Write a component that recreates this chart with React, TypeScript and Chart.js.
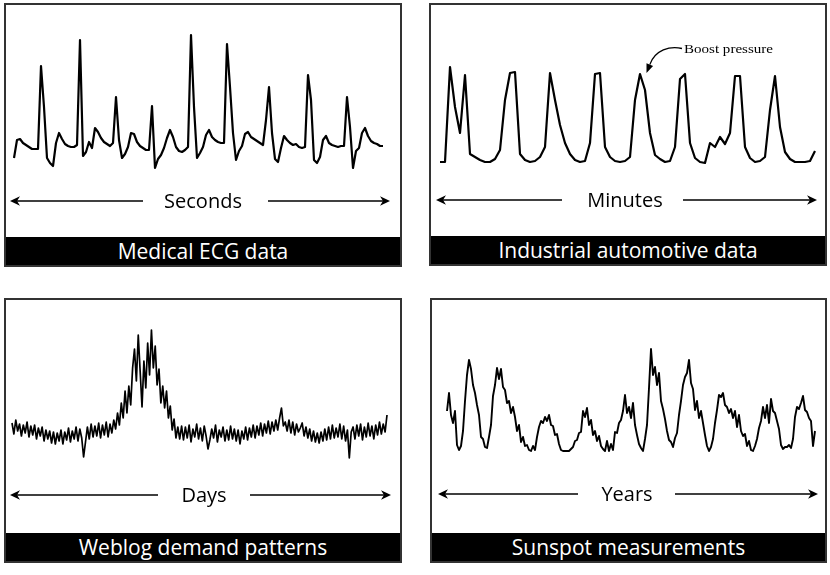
import React, { useEffect, useRef } from "react";
import { Chart, registerables } from "chart.js";

Chart.register(...registerables);

// ---- Data (arbitrary units) ----
const ecgValues = [
  12, 30, 31, 27, 25, 23, 21, 21, 21, 104,
  63, 12, 7, 4, 27, 37, 31, 26, 24, 23,
  23, 25, 130, 14, 18, 28, 22, 42, 38, 32,
  28, 26, 24, 27, 73, 30, 12, 16, 23, 37,
  36, 28, 24, 22, 20, 20, 64, 2, 11, 15,
  22, 32, 40, 33, 23, 19, 18, 20, 23, 135,
  63, 12, 17, 23, 35, 40, 33, 30, 28, 27,
  27, 126, 83, 37, 10, 19, 24, 36, 38, 33,
  31, 29, 27, 25, 50, 83, 37, 11, 8, 22,
  34, 30, 27, 25, 26, 23, 22, 23, 95, 70,
  10, 7, 13, 30, 34, 27, 25, 24, 23, 24,
  24, 73, 43, 2, 19, 22, 37, 42, 34, 29,
  27, 26, 24, 24,
];

const boostValues = [
  3, 3, 98, 58, 32, 90, 11, 8, 5, 3,
  3, 6, 15, 65, 92, 93, 11, 5, 3, 4,
  8, 18, 92, 65, 40, 22, 11, 5, 3, 4,
  22, 91, 92, 18, 8, 4, 3, 4, 8, 65,
  91, 75, 32, 10, 6, 3, 4, 18, 86, 91,
  22, 7, 3, 2, 22, 18, 28, 21, 32, 89,
  89, 18, 7, 3, 4, 8, 55, 89, 38, 13,
  6, 3, 3, 3, 4, 14,
];

const weblogValues = [
  40, 29, 43, 32, 39, 27, 38, 30, 41, 26, 37, 28, 38, 24, 35, 27, 36, 22, 33, 24,
  32, 20, 31, 19, 30, 22, 33, 19, 31, 23, 35, 21, 32, 24, 36, 22, 34, 25, 6, 21,
  36, 24, 39, 26, 37, 27, 40, 25, 38, 28, 41, 26, 39, 30, 43,
  34, 50, 38, 60, 45, 72, 50, 77, 58, 95, 114, 82, 128, 92, 56, 102, 75, 120, 88, 133,
  95, 117, 78, 94, 60, 77, 55, 72, 45, 57, 33, 44, 25, 36, 24,
  37, 23, 36, 25, 38, 21, 34, 26, 39, 24, 35, 22, 37, 27, 14, 23, 34, 25, 38, 21,
  33, 26, 36, 22, 33, 23, 37, 24, 34,
  22, 33, 19, 32, 24, 36, 23, 35, 26, 38, 25, 37, 28, 40, 27, 39, 30, 42, 29, 41, 32, 43,
  33, 45, 55, 37, 41,
  32, 43, 30, 41, 28, 39, 31, 35, 40, 27, 36, 25, 34, 22, 32, 21, 30, 20, 31, 22,
  34, 23, 36, 24, 38, 25, 35, 26, 39, 24, 37, 22, 33, 5, 31, 36, 24, 38, 27, 39,
  23, 36, 26, 40, 27, 37, 24, 38, 28, 41, 29, 39, 31, 48,
];

const sunspotValues = [
  42, 60, 38, 30, 42, 8, 3, 7, 22, 52,
  78, 93, 84, 68, 60, 48, 38, 16, 14, 6,
  5, 16, 28, 57, 68, 85, 74, 84, 66, 63,
  50, 52, 40, 46, 36, 22, 28, 11, 16, 7,
  8, 3, 2, 7, 3, 16, 26, 32, 30, 36,
  32, 38, 28, 27, 18, 19, 9, 3, 2, 2,
  2, 2, 4, 6, 12, 13, 20, 21, 42, 36,
  45, 28, 33, 18, 22, 12, 17, 7, 4, 2,
  12, 2, 9, 3, 21, 20, 30, 33, 42, 58,
  40, 46, 35, 50, 28, 18, 9, 5, 2, 14,
  28, 65, 104, 78, 86, 68, 80, 52, 44, 34,
  22, 13, 11, 6, 15, 20, 38, 52, 68, 76,
  80, 93, 70, 64, 43, 52, 35, 42, 30, 18,
  7, 2, 6, 14, 30, 43, 58, 56, 60, 48,
  46, 40, 44, 35, 42, 26, 38, 22, 17, 19,
  7, 12, 3, 2, 7, 14, 25, 32, 46, 35,
  48, 30, 54, 42, 40, 32, 24, 8, 4, 6,
  6, 8, 5, 14, 36, 46, 44, 50, 57, 43,
  41, 35, 32, 7, 22,
];

const captions = [
  "Medical ECG data",
  "Industrial automotive data",
  "Weblog demand patterns",
  "Sunspot measurements",
];
const axisLabels = ["Seconds", "Minutes", "Days", "Years"];
const annotationText = "Boost pressure";

// ---- Layout (styles / positions) ----
type Plot = { l: number; r: number; base: number; vmax: number };
type Arrow = { y: number; lt: number; le: number; rs: number; rt: number; tx: number };
type Panel = {
  box: { l: number; t: number; w: number; h: number };
  plot: Plot;
  arrow: Arrow;
  values: number[];
  lineWidth: number;
  caption: string;
  label: string;
};

const panels: Panel[] = [
  {
    box: { l: 4, t: 3, w: 398, h: 264 },
    plot: { l: 14, r: 383, base: 170, vmax: 135 },
    arrow: { y: 201, lt: 10, le: 143, rs: 268, rt: 390, tx: 203 },
    values: ecgValues,
    lineWidth: 2.2,
    caption: captions[0],
    label: axisLabels[0],
  },
  {
    box: { l: 429, t: 3, w: 398, h: 263 },
    plot: { l: 440, r: 815, base: 165, vmax: 98 },
    arrow: { y: 200, lt: 436, le: 562, rs: 683, rt: 817, tx: 625 },
    values: boostValues,
    lineWidth: 2.2,
    caption: captions[1],
    label: axisLabels[1],
  },
  {
    box: { l: 4, t: 298, w: 398, h: 265 },
    plot: { l: 12, r: 387, base: 463, vmax: 133 },
    arrow: { y: 495, lt: 10, le: 158, rs: 250, rt: 391, tx: 204 },
    values: weblogValues,
    lineWidth: 1.7,
    caption: captions[2],
    label: axisLabels[2],
  },
  {
    box: { l: 430, t: 298, w: 397, h: 265 },
    plot: { l: 447, r: 815, base: 453, vmax: 104 },
    arrow: { y: 494, lt: 438, le: 578, rs: 675, rt: 818, tx: 627 },
    values: sunspotValues,
    lineWidth: 1.9,
    caption: captions[3],
    label: axisLabels[3],
  },
];

const PAD = 5;
const FONT = "'Open Sans', 'DejaVu Sans', sans-serif";

function LineCanvas({ values, plot, lineWidth }: { values: number[]; plot: Plot; lineWidth: number }) {
  const ref = useRef<HTMLCanvasElement | null>(null);
  const w = plot.r - plot.l + 2 * PAD;
  const h = plot.vmax + 2 * PAD;
  useEffect(() => {
    if (!ref.current) return;
    const chart = new Chart(ref.current, {
      type: "line",
      data: {
        labels: values.map((_, i) => i),
        datasets: [
          {
            data: values,
            borderColor: "#000000",
            borderWidth: lineWidth,
            pointRadius: 0,
            tension: 0,
            fill: false,
            borderJoinStyle: "round",
            clip: false as any,
          },
        ],
      },
      options: {
        animation: false,
        responsive: false,
        events: [],
        layout: { padding: PAD },
        plugins: { legend: { display: false }, tooltip: { enabled: false } },
        scales: {
          x: { display: false, offset: false },
          y: { display: false, min: 0, max: plot.vmax },
        },
      },
    });
    return () => chart.destroy();
  }, []);
  return (
    <canvas
      ref={ref}
      width={w}
      height={h}
      style={{
        position: "absolute",
        left: plot.l - PAD,
        top: plot.base - plot.vmax - PAD,
        width: w,
        height: h,
        display: "block",
      }}
    />
  );
}

function arrowHead(x: number, y: number, dir: number) {
  // dir = -1 points left, +1 points right
  const L = 10;
  const H = 4.8;
  const N = 7;
  return `M ${x} ${y} L ${x - dir * L} ${y - H} L ${x - dir * N} ${y} L ${x - dir * L} ${y + H} Z`;
}

export default function App() {
  return (
    <div
      style={{
        position: "absolute",
        left: 0,
        top: 0,
        width: 830,
        height: 575,
        background: "#ffffff",
        overflow: "hidden",
      }}
    >
      {panels.map((p, i) => (
        <div
          key={"box" + i}
          style={{
            position: "absolute",
            left: p.box.l,
            top: p.box.t,
            width: p.box.w,
            height: p.box.h,
            border: "2px solid #333333",
            boxSizing: "border-box",
            background: "#ffffff",
          }}
        >
          <div
            style={{
              position: "absolute",
              left: 0,
              right: 0,
              bottom: 0,
              height: 28,
              background: "#000000",
              color: "#ffffff",
              fontFamily: FONT,
              fontSize: 21,
              lineHeight: "29px",
              textAlign: "center",
              whiteSpace: "nowrap",
            }}
          >
            {p.caption}
          </div>
        </div>
      ))}
      {panels.map((p, i) => (
        <LineCanvas key={"chart" + i} values={p.values} plot={p.plot} lineWidth={p.lineWidth} />
      ))}
      <svg
        width={830}
        height={575}
        style={{ position: "absolute", left: 0, top: 0, pointerEvents: "none" }}
      >
        {panels.map((p, i) => (
          <g key={"arr" + i}>
            <line x1={p.arrow.lt + 4} y1={p.arrow.y} x2={p.arrow.le} y2={p.arrow.y} stroke="#000" strokeWidth={1.4} />
            <line x1={p.arrow.rs} y1={p.arrow.y} x2={p.arrow.rt - 4} y2={p.arrow.y} stroke="#000" strokeWidth={1.4} />
            <path d={arrowHead(p.arrow.lt, p.arrow.y, -1)} fill="#000" />
            <path d={arrowHead(p.arrow.rt, p.arrow.y, 1)} fill="#000" />
            <text
              x={p.arrow.tx}
              y={p.arrow.y + 6.5}
              textAnchor="middle"
              fontFamily={FONT}
              fontSize={20}
              fill="#000"
            >
              {p.label}
            </text>
          </g>
        ))}
        <path
          d="M 682 48.5 C 670 45.5, 655 50, 649.8 64.6"
          fill="none"
          stroke="#000"
          strokeWidth={1.3}
        />
        <path d="M 646.5 73 L 653.1 65.9 L 646.5 63.3 Z" fill="#000" />
        <text
          x={684}
          y={53}
          fontFamily="'Liberation Serif', 'DejaVu Serif', serif"
          fontSize={13.5}
          textLength={89}
          lengthAdjust="spacingAndGlyphs"
          fill="#000"
        >
          {annotationText}
        </text>
      </svg>
    </div>
  );
}
